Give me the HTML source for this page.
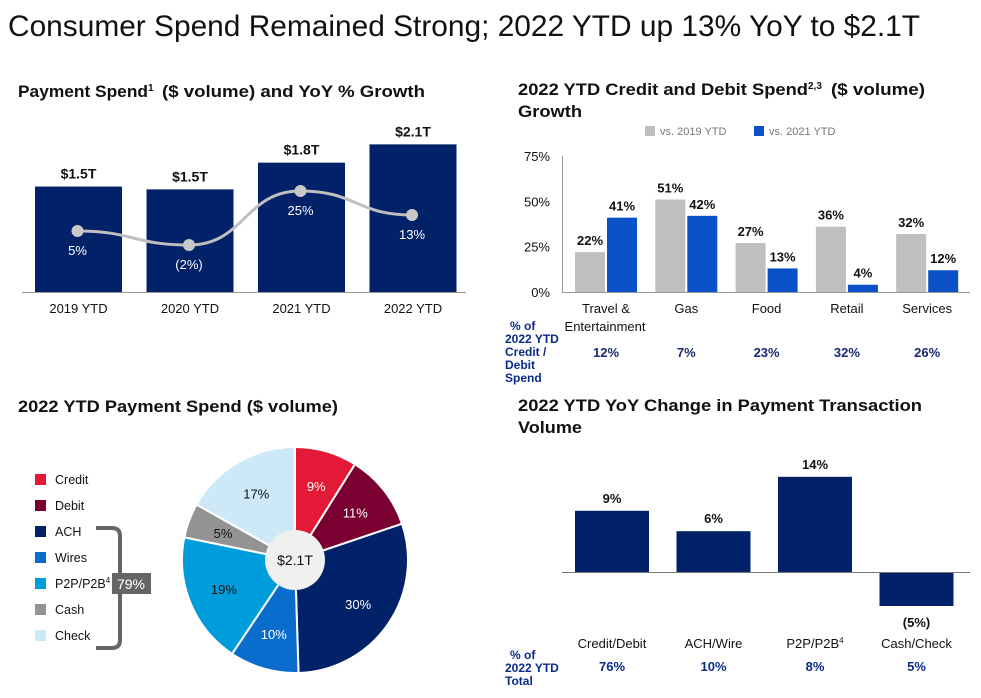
<!DOCTYPE html>
<html><head><meta charset="utf-8"><style>
body{margin:0;width:981px;height:698px;background:#fff;font-family:"Liberation Sans",sans-serif;overflow:hidden}
svg{position:absolute;left:0;top:0}
text{font-family:"Liberation Sans",sans-serif}
</style></head><body>
<svg id="s" width="981" height="698">
<text x="8" y="36" font-size="30" fill="#111" textLength="912" lengthAdjust="spacingAndGlyphs">Consumer Spend Remained Strong; 2022 YTD up 13% YoY to $2.1T</text>
<text x="18" y="97" font-size="16.5" font-weight="bold" fill="#111"><tspan textLength="130" lengthAdjust="spacingAndGlyphs">Payment Spend</tspan><tspan font-size="10" dy="-6">1</tspan><tspan dy="6" x="162" textLength="263" lengthAdjust="spacingAndGlyphs">($ volume) and YoY % Growth</tspan></text>
<text x="518" y="95" font-size="16.5" font-weight="bold" fill="#111"><tspan textLength="290" lengthAdjust="spacingAndGlyphs">2022 YTD Credit and Debit Spend</tspan><tspan font-size="10" dy="-6">2,3</tspan><tspan dy="6" x="831" textLength="94" lengthAdjust="spacingAndGlyphs">($ volume)</tspan></text>
<text x="518" y="117" font-size="16.5" font-weight="bold" fill="#111" textLength="64" lengthAdjust="spacingAndGlyphs">Growth</text>
<text x="18" y="412" font-size="16.5" font-weight="bold" fill="#111" textLength="320" lengthAdjust="spacingAndGlyphs">2022 YTD Payment Spend ($ volume)</text>
<text x="518" y="411" font-size="16.5" font-weight="bold" fill="#111" textLength="404" lengthAdjust="spacingAndGlyphs">2022 YTD YoY Change in Payment Transaction</text>
<text x="518" y="433" font-size="16.5" font-weight="bold" fill="#111" textLength="64" lengthAdjust="spacingAndGlyphs">Volume</text>
<g id="c1"></g><g id="c2"></g><g id="c3"></g><g id="c4"></g>
</svg>
<script>
const NS="http://www.w3.org/2000/svg";
function mk(p,t,a,txt){const e=document.createElementNS(NS,t);for(const k in a)e.setAttribute(k,a[k]);if(txt!==undefined)e.textContent=txt;p.appendChild(e);return e;}
const NAVY="#012169";
// Chart 1
const c1Cats=["2019 YTD","2020 YTD","2021 YTD","2022 YTD"];
const c1Spend=[1.5,1.46,1.84,2.1];
const c1SpendLabels=["$1.5T","$1.5T","$1.8T","$2.1T"];
const c1Growth=[5,-2,25,13];
const c1GrowthLabels=["5%","(2%)","25%","13%"];
// Chart 2
const c2Cats=["Travel &","Gas","Food","Retail","Services"];
const c2Vs2019=[22,51,27,36,32];
const c2Vs2021=[41,42,13,4,12];
const c2Ticks=[0,25,50,75];
const c2Share=["12%","7%","23%","32%","26%"];
// Chart 3
const c3Cats=["Credit","Debit","ACH","Wires","P2P/P2B","Cash","Check"];
const c3Vals=[9,11,30,10,19,5,17];
const c3Colors=["#e31937","#7a0031","#012169","#0a6dce","#009ddc","#939393","#cde9f7"];
// Chart 4
const c4Cats=["Credit/Debit","ACH/Wire","P2P/P2B","Cash/Check"];
const c4Vals=[9,6,14,-5];
const c4Labels=["9%","6%","14%","(5%)"];
const c4Share=["76%","10%","8%","5%"];

// ---- chart 1
(function(){
const g=document.getElementById('c1');
const base=292,k=70.3,x0=35,step=111.5,bw=87;
const xc=i=>x0+i*step+bw/2, yS=v=>base-v*k, yG=v=>241-v*2;
c1Cats.forEach((c,i)=>{
 const r=mk(g,'rect',{x:x0+i*step,y:yS(c1Spend[i]),width:bw,height:base-yS(c1Spend[i]),fill:NAVY});
 
 
 const t=mk(g,'text',{x:xc(i),y:yS(c1Spend[i])-8,'text-anchor':'middle','font-size':14,'font-weight':'bold',fill:'#111'},c1SpendLabels[i]);
 
 
 const l=mk(g,'text',{x:xc(i),y:313,'text-anchor':'middle','font-size':13,fill:'#111'},c);
 
 
});
const ax=mk(g,'line',{x1:22,x2:466,y1:base+0.5,y2:base+0.5,stroke:'#999','stroke-width':1});


const P=c1Growth.map((v,i)=>[xc(i)-1,yG(v)]);
let d='M'+P[0];
for(let i=0;i<P.length-1;i++){const a=P[i],b=P[i+1],m=(b[0]-a[0])/2;d+=` C${a[0]+m},${a[1]} ${b[0]-m},${b[1]} ${b[0]},${b[1]}`;}
const ln=mk(g,'path',{d:d,fill:'none',stroke:'#bfbfbf','stroke-width':3});


P.forEach((p,i)=>{
 const c=mk(g,'circle',{cx:p[0],cy:p[1],r:6,fill:'#c8c8c8'});
 
 
 const t=mk(g,'text',{x:p[0],y:p[1]+24,'text-anchor':'middle','font-size':13,fill:'#fff'},c1GrowthLabels[i]);
 
 
});
})();

// ---- chart 2
(function(){
const g=document.getElementById('c2');
const base=292,k=136/75,x0=575,step=80.3,bw=30;
const y=v=>base-v*k;
mk(g,'rect',{x:645,y:126,width:10,height:10,fill:'#bfbfbf'});
mk(g,'text',{x:660,y:135,'font-size':11,fill:'#777'},'vs. 2019 YTD');
mk(g,'rect',{x:754,y:126,width:10,height:10,fill:'#0a51c8'});
mk(g,'text',{x:769,y:135,'font-size':11,fill:'#777'},'vs. 2021 YTD');
c2Ticks.forEach(t=>{
 const e=mk(g,'text',{x:550,y:y(t)+5,'text-anchor':'end','font-size':13,fill:'#111'},t+'%');
 
 
});
mk(g,'line',{x1:562.5,x2:562.5,y1:156,y2:base,stroke:'#999'});
mk(g,'line',{x1:562,x2:970,y1:base+0.5,y2:base+0.5,stroke:'#999'});
c2Cats.forEach((c,i)=>{
 const gx=x0+i*step;
 const a=mk(g,'rect',{x:gx,y:y(c2Vs2019[i]),width:bw,height:base-y(c2Vs2019[i]),fill:'#bfbfbf'});
 
 
 const b=mk(g,'rect',{x:gx+bw+2,y:y(c2Vs2021[i]),width:bw,height:base-y(c2Vs2021[i]),fill:'#0a51c8'});
 
 
 mk(g,'text',{x:gx+bw/2,y:y(c2Vs2019[i])-7,'text-anchor':'middle','font-size':13,'font-weight':'bold',fill:'#111'},c2Vs2019[i]+'%');
 mk(g,'text',{x:gx+bw*1.5+2,y:y(c2Vs2021[i])-7,'text-anchor':'middle','font-size':13,'font-weight':'bold',fill:'#111'},c2Vs2021[i]+'%');
 const l=mk(g,'text',{x:gx+bw+1,y:313,'text-anchor':'middle','font-size':13,fill:'#111'},c);
 
 
 mk(g,'text',{x:gx+bw+1,y:357,'text-anchor':'middle','font-size':13,'font-weight':'bold',fill:'#1a2a6c'},c2Share[i]);
});
mk(g,'text',{x:605,y:331,'text-anchor':'middle','font-size':13,fill:'#111'},'Entertainment');
[['% of',510,330],['2022 YTD',505,343],['Credit /',505,356],['Debit',505,369],['Spend',505,382]].forEach(r=>mk(g,'text',{x:r[1],y:r[2],'font-size':12,'font-weight':'bold',fill:'#0a2a8a'},r[0]));
})();

// ---- chart 3
(function(){
const g=document.getElementById('c3');
const cx=295,cy=560,R=113,ri=30;
const tot=c3Vals.reduce((a,b)=>a+b,0);
let a0=-Math.PI/2;
c3Vals.forEach((v,i)=>{
 const a1=a0+v/tot*2*Math.PI;
 const p=(a)=>[cx+R*Math.cos(a),cy+R*Math.sin(a)];
 const s=p(a0),e=p(a1);
 const sl=mk(g,'path',{d:`M${cx},${cy} L${s[0]},${s[1]} A${R},${R} 0 ${a1-a0>Math.PI?1:0} 1 ${e[0]},${e[1]} Z`,fill:c3Colors[i],stroke:'#fff','stroke-width':2});
 
 
 const am=(a0+a1)/2,rl=R*0.68;
 const dark=(i===5||i===6||i===4);
 mk(g,'text',{x:cx+rl*Math.cos(am),y:cy+rl*Math.sin(am)+5,'text-anchor':'middle','font-size':13,fill:dark?'#111':'#fff'},v+'%');
 a0=a1;
 const ly=483+i*26;
 const sw=mk(g,'rect',{x:35,y:ly-9,width:11,height:11,fill:c3Colors[i]});
 
 
 const lt=mk(g,'text',{x:55,y:ly+1,'font-size':12.5,fill:'#111'},c3Cats[i]);
 
 
 if(i===4){mk(lt,'tspan',{'font-size':8,dy:-5},'4');}
});
const h=mk(g,'circle',{cx:cx,cy:cy,r:ri,fill:'#f0f0f0'});


mk(g,'text',{x:cx,y:cy+5,'text-anchor':'middle','font-size':14,fill:'#111'},'$2.1T');
mk(g,'path',{d:'M96,528 H112 Q120,528 120,536 V640 Q120,648 112,648 H96',fill:'none',stroke:'#666','stroke-width':4});
mk(g,'rect',{x:112,y:573,width:39,height:21,fill:'#666'});
mk(g,'text',{x:131,y:589,'text-anchor':'middle','font-size':14,fill:'#fff'},'79%');
})();

// ---- chart 4
(function(){
const g=document.getElementById('c4');
const base=572,k=6.8,x0=575,step=101.5,bw=74;
const y=v=>base-v*k;
c4Cats.forEach((c,i)=>{
 const v=c4Vals[i],top=Math.min(y(v),base),h=Math.abs(v*k);
 const r=mk(g,'rect',{x:x0+i*step,y:top,width:bw,height:h,fill:NAVY});
 
 
 const ty=v>=0?y(v)-8:y(v)+21;
 mk(g,'text',{x:x0+i*step+bw/2,y:ty,'text-anchor':'middle','font-size':13,'font-weight':'bold',fill:'#111'},c4Labels[i]);
 const l=mk(g,'text',{x:x0+i*step+bw/2,y:648,'text-anchor':'middle','font-size':13,fill:'#111'},c);
 
 
 if(i===2){mk(l,'tspan',{'font-size':8,dy:-5},'4');}
 mk(g,'text',{x:x0+i*step+bw/2,y:671,'text-anchor':'middle','font-size':13,'font-weight':'bold',fill:'#0a2a8a'},c4Share[i]);
});
mk(g,'line',{x1:562,x2:970,y1:base+0.5,y2:base+0.5,stroke:'#777'});
[['% of',510,659],['2022 YTD',505,672],['Total',505,685]].forEach(r=>mk(g,'text',{x:r[1],y:r[2],'font-size':12,'font-weight':'bold',fill:'#0a2a8a'},r[0]));
})();
</script>
</body></html>
